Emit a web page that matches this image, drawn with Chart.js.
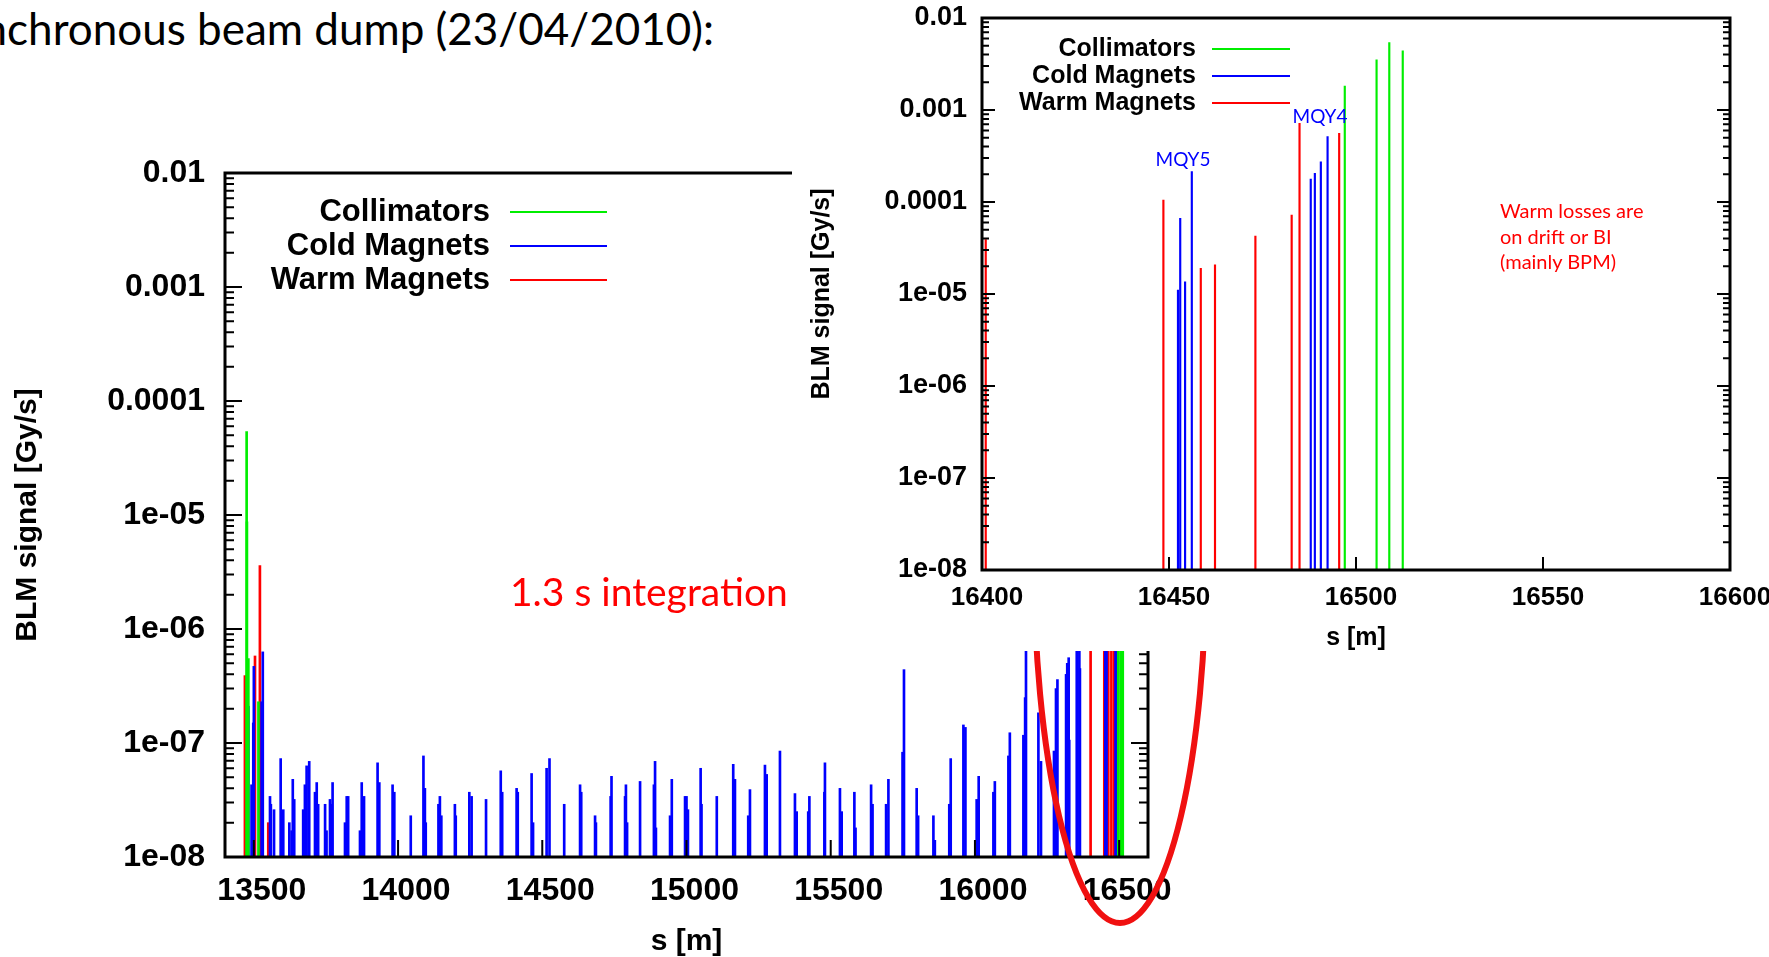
<!DOCTYPE html>
<html>
<head>
<meta charset="utf-8">
<title>BLM signal - asynchronous beam dump</title>
<script src="https://cdn.jsdelivr.net/npm/chart.js@4.4.1/dist/chart.umd.min.js"></script>
<style>
html, body { margin: 0; padding: 0; background: #fff; }
body { width: 1769px; height: 957px; overflow: hidden; position: relative; }
#mainChart { position: absolute; left: 0; top: 0; }
#insetBox { position: absolute; left: 792px; top: 0; width: 1000px; height: 651px; background: #fff; }
#insetChart { position: absolute; left: 0; top: 0; }
.note { position: absolute; white-space: nowrap; font-family: Lato, 'Open Sans', sans-serif; line-height: 1; }
#title { right: 1055px; top: 6px; font-size: 44px; color: #000; }
#integ { left: 510px; top: 572px; font-size: 39px; color: #ff0000; }
.mqy { font-size: 19px; color: #0000ff; transform: translate(-50%, -50%); }
#warmNote { left: 708px; top: 198px; font-size: 20px; line-height: 25.5px; color: #ff0000; }
</style>
</head>
<body>
<div id="title" class="note">Asynchronous beam dump (23/04/2010):</div>
<canvas id="mainChart" width="1769" height="957"></canvas>
<div id="integ" class="note">1.3 s integration</div>
<div id="insetBox">
  <canvas id="insetChart" width="1000" height="651"></canvas>
  <div class="note mqy" style="left:391px;top:158px;">MQY5</div>
  <div class="note mqy" style="left:528px;top:115px;">MQY4</div>
  <div id="warmNote" class="note">Warm losses are<br>on drift or BI<br>(mainly BPM)</div>
</div>
<script>
'use strict';

var xTicksMain = [13500, 14000, 14500, 15000, 15500, 16000, 16500];
var xTicksInset = [16400, 16450, 16500, 16550, 16600];
var yTickValues = [1e-2, 1e-3, 1e-4, 1e-5, 1e-6, 1e-7, 1e-8];
var yTickLabels = ['0.01', '0.001', '0.0001', '1e-05', '1e-06', '1e-07', '1e-08'];

// Collimators
var collS = [13475, 13476, 13481, 13516, 16497, 16505.5, 16508.9, 16512.5];
var collV = [5.4e-5, 8.7e-6, 5.5e-7, 2.3e-7, 1.82e-3, 3.5e-3, 5.4e-3, 4.4e-3];

// Warm magnets
var warmS = [13469, 13504, 13521, 13550, 16401, 16448.5, 16458.5, 16462.3, 16473.1, 16482.8, 16484.9, 16495.5];
var warmV = [3.9e-7, 5.8e-7, 3.6e-6, 2e-8, 3.9e-5, 1.05e-4, 1.9e-5, 2.07e-5, 4.26e-5, 7.2e-5, 7.16e-4, 5.58e-4];

// Cold magnets
var coldS = [13481, 13492, 13498, 13500, 13527, 13531, 13556, 13559, 13570, 13593, 13602, 13623, 13631, 13635, 13640,
    13671, 13677, 13683, 13692, 13712, 13718, 13723, 13747, 13752, 13764, 13768, 13773, 13816, 13822, 13827,
    13868, 13874, 13882, 13929, 13935, 13981, 13987, 14044, 14088, 14093, 14096, 14140, 14145, 14150, 14197,
    14200, 14247, 14255, 14305, 14356, 14361, 14411, 14415, 14463, 14468, 14515, 14525, 14576, 14631, 14635,
    14683, 14686, 14737, 14740, 14787, 14790, 14794, 14839, 14887, 14891, 14894, 14943, 14949, 14995, 15000,
    15005, 15049, 15052, 15105, 15162, 15168, 15214, 15220, 15272, 15278, 15324, 15376, 15382, 15422, 15426,
    15478, 15480, 15532, 15538, 15582, 15586, 15640, 15645, 15692, 15700, 15749, 15754, 15798, 15803, 15856,
    15861, 15911, 15916, 15960, 15967, 16006, 16013, 16064, 16069, 16116, 16121, 16168, 16174, 16177, 16220,
    16229, 16274, 16281, 16286, 16316, 16320, 16325, 16327, 16353, 16362, 16364,
    16452.4, 16453, 16454.3, 16456.1, 16487.9, 16489, 16490.6, 16492.4];
var coldV = [2.1e-7, 4.3e-8, 1.5e-7, 4.7e-7, 2.3e-7, 6.3e-7, 3.4e-8, 2.9e-8, 2.6e-8, 7.3e-8, 2.6e-8, 2e-8, 1.7e-8, 4.8e-8, 3.2e-8,
    2.6e-8, 4.3e-8, 6.3e-8, 6.9e-8, 3.7e-8, 4.5e-8, 2.9e-8, 2.9e-8, 1.7e-8, 3.2e-8, 2.9e-8, 4.5e-8, 2e-8, 3.4e-8, 3.4e-8,
    1.7e-8, 4.5e-8, 3.4e-8, 6.7e-8, 4.5e-8, 4.3e-8, 3.7e-8, 2.3e-8, 7.7e-8, 4e-8, 2e-8, 2.9e-8, 3.4e-8, 2.3e-8, 2.9e-8,
    2.3e-8, 3.7e-8, 3.4e-8, 3.2e-8, 5.7e-8, 3.7e-8, 4e-8, 3.7e-8, 5.4e-8, 2e-8, 6e-8, 7.3e-8, 2.9e-8, 4.3e-8, 3.7e-8,
    2.3e-8, 2e-8, 3.4e-8, 5.1e-8, 3.4e-8, 4.3e-8, 2e-8, 4.6e-8, 4.3e-8, 6.9e-8, 1.8e-8, 2.3e-8, 4.8e-8, 3.4e-8, 3.4e-8,
    2.6e-8, 6e-8, 2.9e-8, 3.4e-8, 6.5e-8, 4.8e-8, 2.3e-8, 3.9e-8, 6.4e-8, 5.3e-8, 8.5e-8, 3.6e-8, 2.5e-8, 2.5e-8, 3.4e-8,
    3.7e-8, 6.7e-8, 4e-8, 2.5e-8, 3.7e-8, 1.8e-8, 4.3e-8, 2.9e-8, 2.9e-8, 4.8e-8, 8.3e-8, 4.4e-7, 4e-8, 2.3e-8, 2.3e-8,
    1.4e-8, 2.9e-8, 7.3e-8, 1.44e-7, 1.37e-7, 3.2e-8, 5.1e-8, 3.7e-8, 4.6e-8, 7.7e-8, 1.23e-7, 1.17e-7, 2.5e-7, 1.5e-6, 1.84e-7,
    6.9e-8, 8.5e-8, 3e-7, 3.6e-7, 4e-7, 5e-7, 5.6e-7, 1.06e-7, 2e-6, 3e-6, 4.5e-7,
    1.1e-5, 6.65e-5, 1.36e-5, 2.14e-4, 1.77e-4, 2.05e-4, 2.74e-4, 5.13e-4];

var GREEN = '#00ee00', BLUE = '#0000ff', RED = '#ff0000';
var FONT = "'Liberation Sans', Arial, sans-serif";

function pairs(sArr, vArr, from) {
    var out = [];
    for (var i = 0; i < sArr.length; i++) {
        if (sArr[i] >= from) out.push({ x: sArr[i], y: vArr[i] });
    }
    return out;
}

function datasets(from, thick) {
    return [
        { label: 'Collimators',   data: pairs(collS, collV, from), backgroundColor: GREEN, barThickness: thick, grouped: false },
        { label: 'Cold Magnets',  data: pairs(coldS, coldV, from), backgroundColor: BLUE,  barThickness: thick, grouped: false },
        { label: 'Warm Magnets',  data: pairs(warmS, warmV, from), backgroundColor: RED,   barThickness: thick, grouped: false }
    ];
}

// frame, inside ticks and the right-aligned legend
var framePlugin = {
    id: 'frame',
    afterDatasetsDraw: function(chart, args, o) {
        var ctx = chart.ctx, a = chart.chartArea, xs = chart.scales.x, ys = chart.scales.y;
        ctx.save();
        ctx.strokeStyle = '#000';
        ctx.lineWidth = o.tickWidth;
        ctx.beginPath();
        o.xTicks.forEach(function(v) {
            var px = xs.getPixelForValue(v);
            ctx.moveTo(px, a.bottom);
            ctx.lineTo(px, a.bottom - o.major);
        });
        for (var d = 0; d < yTickValues.length; d++) {
            var dec = yTickValues[d];
            var kmax = dec >= 1e-2 ? 1 : 9;
            for (var k = 1; k <= kmax; k++) {
                var py = ys.getPixelForValue(k * dec);
                var len = k === 1 ? o.major : o.minor;
                ctx.moveTo(a.left, py); ctx.lineTo(a.left + len, py);
                ctx.moveTo(a.right, py); ctx.lineTo(a.right - len, py);
            }
        }
        ctx.stroke();
        ctx.lineWidth = o.border;
        ctx.strokeRect(a.left, a.top, a.right - a.left, a.bottom - a.top);

        var L = o.legend;
        ctx.font = L.font;
        ctx.textAlign = 'right';
        ctx.textBaseline = 'middle';
        chart.data.datasets.forEach(function(ds, i) {
            var y = L.top + i * L.step;
            ctx.fillStyle = '#000';
            ctx.fillText(ds.label, L.right, y);
            ctx.strokeStyle = ds.backgroundColor;
            ctx.lineWidth = 2;
            ctx.beginPath();
            ctx.moveTo(L.lineFrom, y);
            ctx.lineTo(L.lineTo, y);
            ctx.stroke();
        });
        ctx.restore();
    }
};

// red ellipse drawn over the main plot
var ellipsePlugin = {
    id: 'ellipse',
    afterDraw: function(chart, args, o) {
        var ctx = chart.ctx;
        ctx.save();
        ctx.strokeStyle = '#f01010';
        ctx.lineWidth = 6;
        ctx.beginPath();
        ctx.ellipse(o.cx, o.cy, o.rx, o.ry, 0, 0, Math.PI * 2);
        ctx.stroke();
        ctx.restore();
    }
};

function makeOptions(cfg) {
    return {
        responsive: false,
        animation: false,
        devicePixelRatio: 1,
        layout: { padding: cfg.padding },
        plugins: {
            legend: { display: false },
            tooltip: { enabled: false },
            frame: cfg.frame,
            ellipse: cfg.ellipse || false
        },
        scales: {
            x: {
                type: 'linear', min: cfg.xMin, max: cfg.xMax, offset: false,
                grid: { display: false, drawTicks: false, offset: false }, border: { display: false },
                afterBuildTicks: function(s) { s.ticks = cfg.xTicks.map(function(v) { return { value: v }; }); },
                afterFit: function(s) { s.height = cfg.xHeight; },
                ticks: { autoSkip: false, maxRotation: 0, padding: cfg.xPad, labelOffset: cfg.xLabelOffset, color: '#000',
                         font: { family: FONT, size: cfg.tickSize, weight: 'bold' },
                         callback: function(v) { return String(v); } },
                title: { display: true, text: 's [m]', color: '#000', padding: { top: 0, bottom: 0 },
                         font: { family: FONT, size: cfg.titleSize, weight: 'bold', lineHeight: 1.0 } }
            },
            y: {
                type: 'logarithmic', min: 1e-8, max: 1e-2,
                grid: { display: false, drawTicks: false }, border: { display: false },
                afterBuildTicks: function(s) { s.ticks = yTickValues.map(function(v) { return { value: v }; }); },
                afterFit: function(s) { s.width = cfg.yWidth; s.paddingTop = 0; s.paddingBottom = 0; },
                ticks: { autoSkip: false, padding: cfg.yPad, color: '#000',
                         font: { family: FONT, size: cfg.yTickSize, weight: 'bold' },
                         callback: function(v, i) { return yTickLabels[i]; } },
                title: { display: true, text: 'BLM signal [Gy/s]', color: '#000', padding: { top: cfg.yTitlePad, bottom: 0 },
                         font: { family: FONT, size: cfg.titleSize, weight: 'bold', lineHeight: 1.2 } }
            }
        }
    };
}

new Chart(document.getElementById('mainChart').getContext('2d'), {
    type: 'bar',
    data: { datasets: datasets(13400, 2) },
    options: makeOptions({
        padding: { left: 0, top: 173, right: 621, bottom: 0 },
        xMin: 13400, xMax: 16600, xTicks: xTicksMain,
        xHeight: 100, xPad: 15, xLabelOffset: 8, yWidth: 225, yPad: 20, yTitlePad: 10,
        tickSize: 32, yTickSize: 32, titleSize: 30,
        frame: { border: 3, tickWidth: 2, major: 17, minor: 9, xTicks: xTicksMain,
                 legend: { font: 'bold 31px ' + FONT, right: 490, lineFrom: 510, lineTo: 607, top: 212, step: 34 } },
        ellipse: { cx: 1120, cy: 560, rx: 86, ry: 363 }
    }),
    plugins: [framePlugin, ellipsePlugin]
});

new Chart(document.getElementById('insetChart').getContext('2d'), {
    type: 'bar',
    data: { datasets: datasets(16400, 1.5) },
    options: makeOptions({
        padding: { left: 0, top: 18, right: 62, bottom: 0 },
        xMin: 16400, xMax: 16600, xTicks: xTicksInset,
        xHeight: 81, xPad: 12, xLabelOffset: 5, yWidth: 190, yPad: 15, yTitlePad: 15,
        tickSize: 26, yTickSize: 27, titleSize: 25,
        frame: { border: 3, tickWidth: 2, major: 13, minor: 7, xTicks: xTicksInset,
                 legend: { font: 'bold 25px ' + FONT, right: 404, lineFrom: 420, lineTo: 498, top: 49, step: 27 } }
    }),
    plugins: [framePlugin]
});
</script>
</body>
</html>
